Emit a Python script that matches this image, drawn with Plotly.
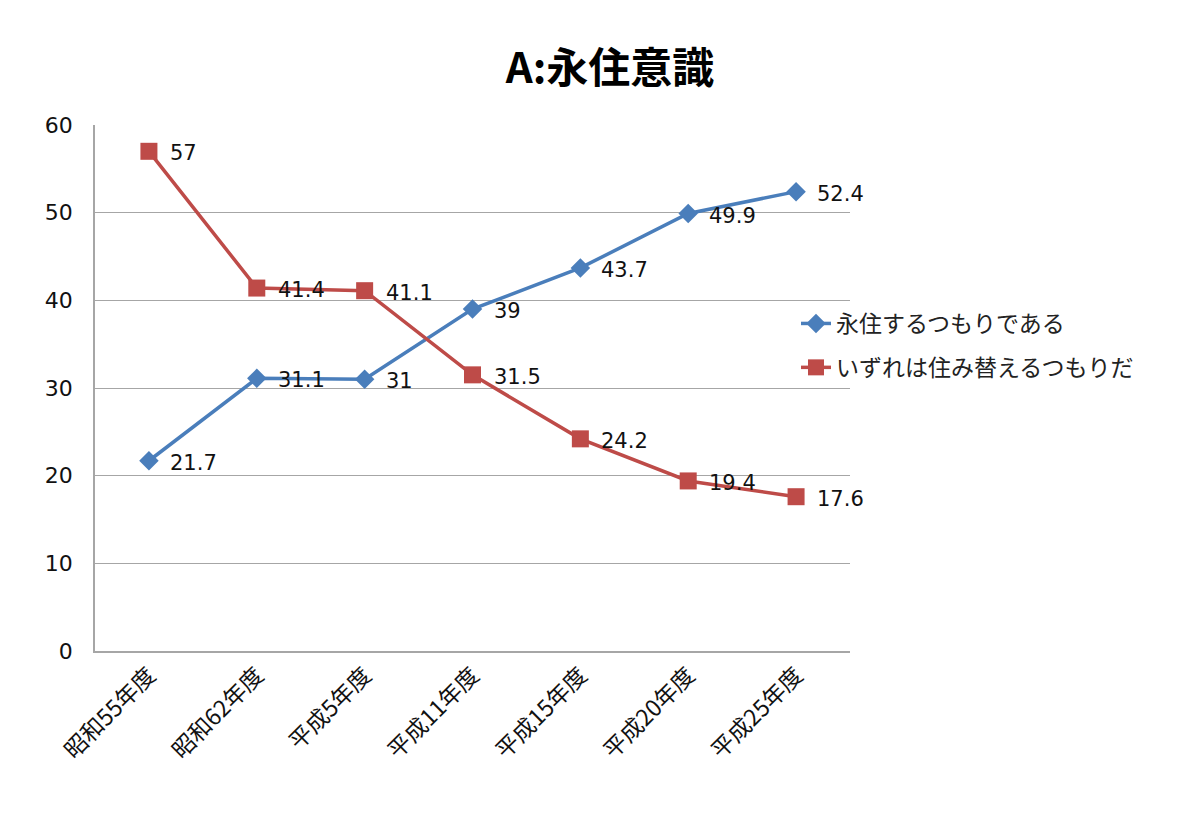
import plotly.graph_objects as go

categories = ["昭和55年度", "昭和62年度", "平成5年度", "平成11年度", "平成15年度", "平成20年度", "平成25年度"]
series_names = ["永住するつもりである", "いずれは住み替えるつもりだ"]
permanent = [21.7, 31.1, 31, 39, 43.7, 49.9, 52.4]
move_away = [57, 41.4, 41.1, 31.5, 24.2, 19.4, 17.6]
y_ticks = [0, 10, 20, 30, 40, 50, 60]

FONT = "Noto Sans CJK JP, Noto Sans, sans-serif"
NUMFONT = "DejaVu Sans, Liberation Sans, sans-serif"
BLUE = "#4A7EBB"
RED = "#BE4B48"

fig = go.Figure()
fig.add_trace(go.Scatter(
    x=categories, y=permanent, name=series_names[0], mode="lines+markers",
    legendgroup="a",
    line=dict(color=BLUE, width=3.5),
    marker=dict(symbol="diamond", size=15, color=BLUE),
))
fig.add_trace(go.Scatter(
    x=categories, y=move_away, name=series_names[1], mode="lines+markers",
    legendgroup="b",
    line=dict(color=RED, width=3.5),
    marker=dict(symbol="square", size=17, color=RED),
))

annotations = []
for vals in (permanent, move_away):
    for c, v in zip(categories, vals):
        annotations.append(dict(
            x=c, y=v, xref="x", yref="y", text=f"{v:g}", showarrow=False,
            xanchor="left", yanchor="middle", xshift=19, yshift=-2,
            font=dict(family=NUMFONT, size=21, color="#111"),
        ))

fig.update_layout(
    width=1200, height=813,
    paper_bgcolor="white", plot_bgcolor="white",
    margin=dict(l=95, r=350, t=125, b=162),
    title=dict(text="A:永住意識", x=610 / 1200, xanchor="center", y=1 - 68 / 813, yanchor="middle",
               font=dict(family=FONT, size=42, color="#000", weight=700)),
    showlegend=True,
    legend=dict(x=(796 - 95) / 755, y=(651 - 302) / 526, xanchor="left", yanchor="top",
                font=dict(family=FONT, size=23, color="#222"),
                bgcolor="rgba(255,255,255,0)", tracegroupgap=11),
    annotations=annotations,
)
fig.update_xaxes(
    type="category", range=[-0.5, len(categories) - 0.5], tickangle=-45, showgrid=False,
    showline=True, linecolor="#A6A6A6", linewidth=1.5, mirror=False,
    ticks="", tickfont=dict(family=FONT, size=23, color="#111"),
)
fig.update_yaxes(
    range=[0, 60], tickvals=y_ticks, showgrid=True, gridcolor="#A6A6A6", gridwidth=1,
    showline=True, linecolor="#A6A6A6", linewidth=1.5, zeroline=False,
    ticks="", ticklabelstandoff=16,
    tickfont=dict(family=NUMFONT, size=22, color="#111"),
)
fig.write_html("out.html")
